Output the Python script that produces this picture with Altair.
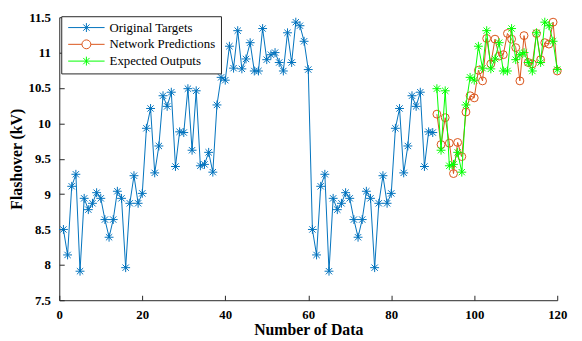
import altair as alt
import pandas as pd

# ---------------- data ----------------
orig_x = list(range(1, 91))
orig_y = [8.50, 8.14, 9.11, 9.28, 7.91, 8.94, 8.78, 8.87, 9.02, 8.94,
          8.64, 8.39, 8.64, 9.04, 8.94, 7.96, 8.87, 9.26, 8.87, 9.01,
          9.93, 10.21, 9.30, 9.68, 10.39, 10.24, 10.44, 9.39, 9.88, 9.87,
          10.49, 9.62, 10.46, 9.40, 9.42, 9.59, 9.31, 10.26, 10.65, 10.61,
          11.09, 10.78, 11.31, 10.77, 10.91, 11.14, 10.74, 10.74, 11.34, 10.90,
          10.97, 11.00, 10.86, 10.74, 11.28, 10.86, 11.43, 11.38, 11.16, 10.76,
          8.50, 8.14, 9.11, 9.28, 7.91, 8.94, 8.78, 8.87, 9.02, 8.94,
          8.64, 8.39, 8.64, 9.04, 8.94, 7.96, 8.87, 9.26, 8.87, 9.01,
          9.93, 10.21, 9.30, 9.68, 10.39, 10.24, 10.44, 9.39, 9.88, 9.87]

test_x = list(range(91, 121))
pred_y = [10.13, 9.70, 10.08, 9.72, 9.29, 9.73, 9.53, 10.16, 10.39, 10.36,
          10.75, 10.60, 11.20, 10.84, 11.19, 10.95, 10.97, 11.27, 11.19, 11.07,
          10.60, 11.24, 10.86, 10.84, 11.27, 10.90, 11.14, 11.12, 11.43, 10.74]
exp_y = [10.49, 9.62, 10.46, 9.40, 9.42, 9.59, 9.31, 10.26, 10.65, 10.61,
         11.09, 10.78, 11.31, 10.77, 10.91, 11.14, 10.74, 10.74, 11.34, 10.90,
         10.97, 11.00, 10.86, 10.74, 11.28, 10.86, 11.43, 11.38, 11.16, 10.76]

series = ["Original Targets", "Network Predictions", "Expected Outputs"]
colors = ["#0072BD", "#D95319", "#00FF00"]
x_ticks = [0, 20, 40, 60, 80, 100, 120]
y_ticks = [7.5, 8, 8.5, 9, 9.5, 10, 10.5, 11, 11.5]

# ---------------- styling ----------------
W, H = 505, 287
FONT = "Liberation Serif"
AXC = "#262626"
AST = "M0,-1L0,1M-1,0L1,0M-0.71,-0.71L0.71,0.71M-0.71,0.71L0.71,-0.71"
LEG_AST = "M-4.1,0L4.1,0M0,-1L0,1M-0.71,-0.71L0.71,0.71M-0.71,0.71L0.71,-0.71"
LEG_CIRC = "M-4.1,0L-1,0M1,0L4.1,0M-1,0A1,1,0,1,1,1,0A1,1,0,1,1,-1,0"

orig = pd.DataFrame({"x": orig_x, "y": orig_y})
pred = pd.DataFrame({"x": test_x, "y": pred_y})
expd = pd.DataFrame({"x": test_x, "y": exp_y})
leg_df = pd.DataFrame({"x": [0, 0, 0], "y": [7.5, 7.5, 7.5], "series": series})

xs = alt.Scale(domain=[0, 120], nice=False)
ys = alt.Scale(domain=[7.5, 11.5], nice=False)

main_x_axis = alt.Axis(values=x_ticks, title="Number of Data", ticks=False, grid=False,
                       labelFont=FONT, labelFontWeight="bold", labelFontSize=13, labelColor="black",
                       labelPadding=9, labelFlush=False,
                       titleFont=FONT, titleFontWeight="bold", titleFontSize=16, titleColor="black",
                       titlePadding=0, domainColor=AXC)
main_y_axis = alt.Axis(values=y_ticks, title="Flashover (kV)", ticks=False, grid=False, format="~g",
                       labelFont=FONT, labelFontWeight="bold", labelFontSize=13, labelColor="black",
                       labelPadding=9, labelFlush=False,
                       titleFont=FONT, titleFontWeight="bold", titleFontSize=16, titleColor="black",
                       titlePadding=4, domainColor=AXC)
tick_x_axis = alt.Axis(orient="top", offset=-H, values=x_ticks, labels=False, domain=False,
                       ticks=True, tickSize=5, tickColor=AXC, grid=False, title=None)
tick_y_axis = alt.Axis(orient="right", offset=-W, values=y_ticks, labels=False, domain=False,
                       ticks=True, tickSize=5, tickColor=AXC, grid=False, title=None)


def line(df, color, xa=None, ya=None):
    return alt.Chart(df).mark_line(color=color, strokeWidth=1).encode(
        x=alt.X("x:Q", scale=xs, axis=xa), y=alt.Y("y:Q", scale=ys, axis=ya))


def pts(df, color, shape, size, xa=None, ya=None):
    return alt.Chart(df).mark_point(color=color, shape=shape, size=size, filled=False,
                                    strokeWidth=1, opacity=1).encode(
        x=alt.X("x:Q", scale=xs, axis=xa), y=alt.Y("y:Q", scale=ys, axis=ya))


leg = alt.Legend(title=None, orient="none", legendX=2, legendY=-1, fillColor="white",
                 strokeColor=AXC, padding=5, symbolSize=81, symbolStrokeWidth=1,
                 symbolOffset=14, labelOffset=17, labelFont=FONT, labelFontSize=13,
                 labelColor="black", rowPadding=3, cornerRadius=0)

legend_layer = alt.Chart(leg_df).transform_filter("false").mark_point(
    filled=False, strokeWidth=1, size=81, opacity=1).encode(
    x=alt.X("x:Q", scale=xs, axis=None),
    y=alt.Y("y:Q", scale=ys, axis=None),
    color=alt.Color("series:N", scale=alt.Scale(domain=series, range=colors), legend=leg),
    shape=alt.Shape("series:N", scale=alt.Scale(domain=series, range=[LEG_AST, LEG_CIRC, LEG_AST]),
                    legend=leg),
)

chart = alt.layer(
    line(orig, colors[0], main_x_axis, main_y_axis),
    pts(orig, colors[0], AST, 81, tick_x_axis, tick_y_axis),
    line(pred, colors[1]),
    pts(pred, colors[1], "circle", 64),
    line(expd, colors[2]),
    pts(expd, colors[2], AST, 81),
    legend_layer,
).resolve_axis(x="independent", y="independent").properties(
    width=W, height=H,
    autosize=alt.AutoSizeParams(type="none"),
    padding={"left": 52, "top": 7, "right": 17, "bottom": 38},
    background="white",
).configure(font=FONT).configure_view(stroke=None).configure_legend(
    labelFont=FONT, labelFontSize=13, labelColor="black"
)

chart.save("out.html", embed_options={"renderer": "svg", "actions": False})
